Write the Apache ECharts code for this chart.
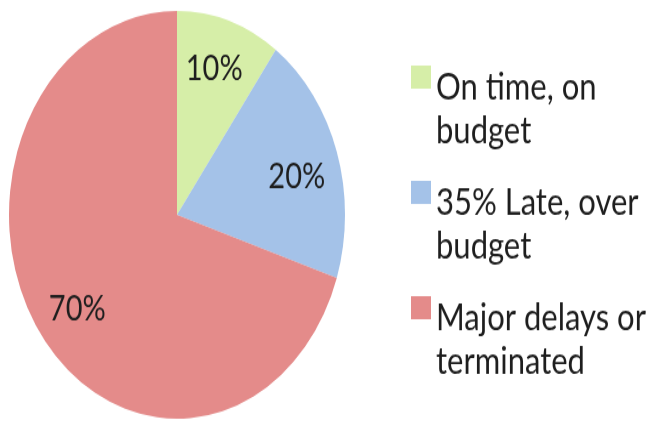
<!DOCTYPE html>
<html>
<head>
<meta charset="utf-8">
<script src="https://cdn.jsdelivr.net/npm/echarts@6/dist/echarts.min.js"></script>
<style>
  html, body { margin: 0; padding: 0; background: #fff; overflow: hidden; }
  #wrap { width: 652px; height: 426px; overflow: hidden; }
  /* the chart is drawn on a shorter canvas and stretched vertically into an oval */
  #chart { width: 652px; height: 351px; transform: scaleY(1.2137); transform-origin: 0 0; }
</style>
</head>
<body>
<div id="wrap"><div id="chart"></div></div>
<script>
// Project outcome categories (legend names) and their shares in percent
const categories = ['On time, on\nbudget', '35% Late, over\nbudget', 'Major delays or\nterminated'];
const shares = [10, 20, 70];

// Slice colours, in category order
const sliceColors = ['#d6eea8', '#a4c2e8', '#e48b8a'];

// Small nudges for the percentage labels, in category order
const labelNudges = [[-2, 0], [-1, 8], [3, 3]];

// Legend swatch: a 20x19 square at the top of a 20x72 box,
// so it lines up with the first line of a two-line legend entry
const swatchIcon = 'path://M0,0L20,0L20,19L0,19Z M0,72L20,72L20,72Z';

const pieData = categories.map((name, i) => ({
  name: name,
  value: shares[i],
  itemStyle: { color: sliceColors[i] }
}));

const labelData = categories.map((name, i) => ({
  name: name,
  value: shares[i],
  itemStyle: { color: 'transparent' },
  label: { offset: labelNudges[i] }
}));

const chart = echarts.init(document.getElementById('chart'), null, { renderer: 'canvas' });

chart.setOption({
  animation: false,
  backgroundColor: '#ffffff',
  legend: {
    orient: 'vertical',
    left: 411,
    top: 54,
    padding: 0,
    itemWidth: 20,
    itemHeight: 72,
    itemGap: 23,
    icon: swatchIcon,
    itemStyle: { borderWidth: 0 },
    selectedMode: false,
    data: categories,
    textStyle: {
      fontFamily: 'Lato',
      fontSize: 31,
      color: '#1e1e1e',
      lineHeight: 36
    }
  },
  series: [
    {
      // the pie itself
      type: 'pie',
      center: [177, 177],
      radius: 168,
      startAngle: 90,
      clockwise: true,
      silent: true,
      label: { show: false },
      labelLine: { show: false },
      emphasis: { disabled: true },
      data: pieData
    },
    {
      // percentage labels placed on a ring inside the slices
      type: 'pie',
      center: [177, 177],
      radius: [99, 149],
      startAngle: 90,
      clockwise: true,
      silent: true,
      label: {
        show: true,
        position: 'inside',
        formatter: '{c}%',
        fontFamily: 'Lato',
        fontSize: 29,
        color: '#1e1e1e'
      },
      labelLine: { show: false },
      emphasis: { disabled: true },
      data: labelData
    }
  ]
});
</script>
</body>
</html>
